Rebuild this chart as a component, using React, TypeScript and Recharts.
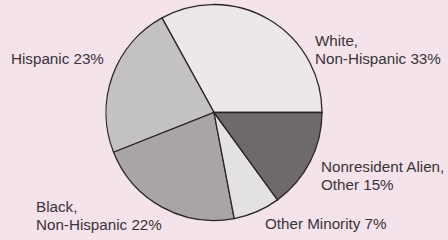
import { Cell, Pie, PieChart } from 'recharts'

const groups = ['White,\nNon-Hispanic', 'Hispanic', 'Black,\nNon-Hispanic', 'Other Minority', 'Nonresident Alien,\nOther']
const shares = [33, 23, 22, 7, 15]
const COLORS = ['#ebe7eb', '#c4c1c4', '#a8a4a8', '#e3e1e3', '#6d696d']

// label offsets from the pie centre (x, first baseline)
const LABEL_POS = [
    { dx: 101, dy: -67 },
    { dx: -203, dy: -49 },
    { dx: -178, dy: 99 },
    { dx: 51, dy: 116 },
    { dx: 107, dy: 59 },
]

const data = groups.map((name, i) => ({ name, value: shares[i] }))

const renderLabel = (props: any) => {
    const { cx, cy, index } = props
    const pos = LABEL_POS[index]
    const lines = (groups[index] + ' ' + shares[index] + '%').split('\n')
    const x = cx + pos.dx
    return (
        <text
            x={x}
            y={cy + pos.dy}
            fill="#3a3439"
            fontSize={15.2}
            fontFamily="'Liberation Sans', Arial, sans-serif"
            textAnchor="start"
        >
            {lines.map((line, i) => (
                <tspan key={i} x={x} dy={i === 0 ? 0 : 18}>
                    {line}
                </tspan>
            ))}
        </text>
    )
}

export default function App() {
    return (
        <div style={{ width: 448, height: 240, background: '#f4e3ea' }}>
            <style>{'body{margin:0}'}</style>
            <PieChart width={448} height={240} margin={{ top: 0, right: 0, bottom: 0, left: 0 }}>
                <Pie
                    data={data}
                    dataKey="value"
                    cx={214}
                    cy={112.5}
                    outerRadius={108}
                    startAngle={0}
                    endAngle={360}
                    stroke="#2a2528"
                    strokeWidth={1.3}
                    label={renderLabel}
                    labelLine={false}
                    isAnimationActive={false}
                >
                    {data.map((entry, index) => (
                        <Cell key={`cell-${index}`} fill={COLORS[index]} />
                    ))}
                </Pie>
            </PieChart>
        </div>
    )
}
